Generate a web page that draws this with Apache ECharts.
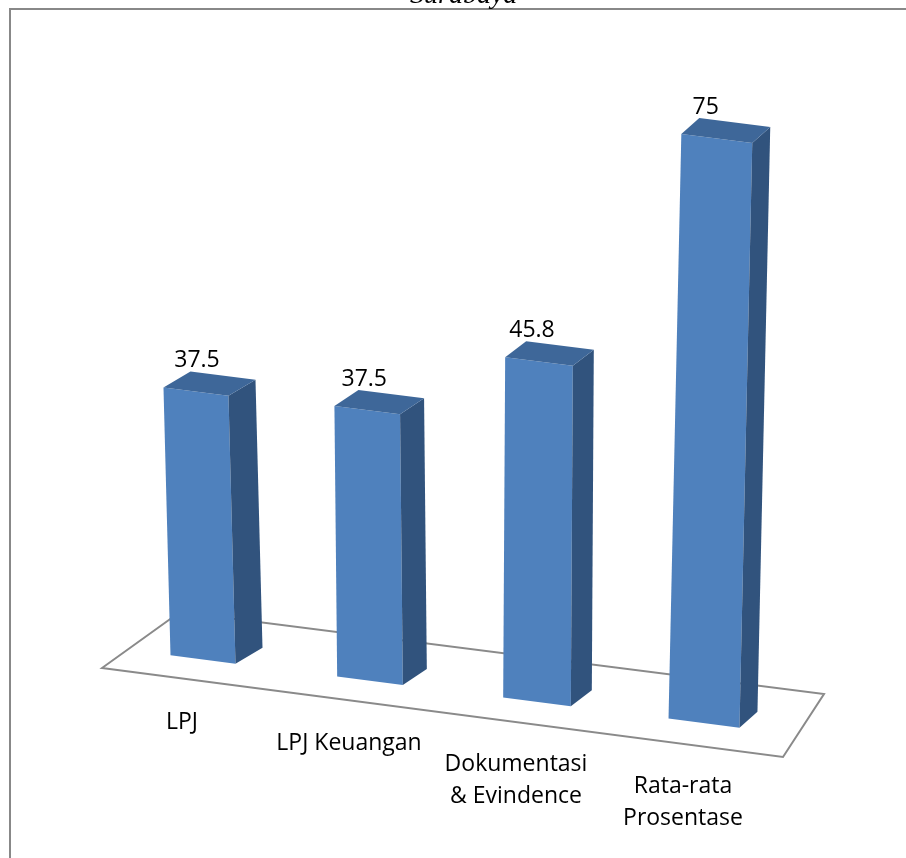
<!DOCTYPE html>
<html><head><meta charset="utf-8">
<script src="https://cdn.jsdelivr.net/npm/echarts@6/dist/echarts.min.js"></script>
<style>html,body{margin:0;padding:0;background:#fff}#c{width:906px;height:858px}</style>
</head><body><div id="c"></div>
<script>
const titleText = 'Surabaya';
const categories = ['LPJ', 'LPJ Keuangan', 'Dokumentasi\n& Evindence', 'Rata-rata\nProsentase'];
const values = [37.5, 37.5, 45.8, 75];
const valueLabels = ['37.5', '37.5', '45.8', '75'];

// styling / perspective constants
const SLOPE = 0.127, K2 = 3.64e-7, M = 9.6e-5, VX = 476, FACE_W = 65, DEPTH_DY = -16;
const COL_FRONT = '#4F81BD', COL_TOP = '#3E6799', COL_SIDE = '#31537D';
const FONT = 'Open Sans';

const chart = echarts.init(document.getElementById('c'), null, {renderer: 'canvas'});

function barItem(params, api) {
  const idx = api.value(0), val = api.value(1);
  const o = api.coord([0, 0]);
  const X0 = o[0], zeroY = o[1];
  const c = api.coord([idx, 0]);
  const t = api.coord([idx, val]);
  const Xc = c[0], dX = Xc - X0;
  const s = 1 + K2 * dX * dX;
  const H = (c[1] - t[1]) * s;
  const w = FACE_W * s;
  const ddx = 27 - 0.018 * dX;
  function P(x, hh, d) {
    const lean = (Xc - VX) * hh * M;
    const baseY = zeroY + SLOPE * (x - X0);
    return [x + lean + d * ddx, baseY - hh + d * DEPTH_DY];
  }
  const xl = Xc - w / 2, xr = Xc + w / 2;
  const FBL = P(xl, 0, 0), FBR = P(xr, 0, 0), FTL = P(xl, H, 0), FTR = P(xr, H, 0);
  const BTL = P(xl, H, 1), BTR = P(xr, H, 1), BBR = P(xr, 0, 1);
  const base = P(Xc, 0, 0);
  return {
    type: 'group',
    children: [
      {type: 'polygon', shape: {points: [FBL, FBR, FTR, FTL]}, style: {fill: COL_FRONT}},
      {type: 'polygon', shape: {points: [FBR, BBR, BTR, FTR]}, style: {fill: COL_SIDE}},
      {type: 'polygon', shape: {points: [FTL, FTR, BTR, BTL]}, style: {fill: COL_TOP}},
      {type: 'text', x: (FTL[0] + FTR[0]) / 2 + 1 - 0.024 * dX, y: (FTL[1] + FTR[1]) / 2 - 31,
        style: {text: valueLabels[idx], fontFamily: FONT, fontSize: 23, fill: '#000', align: 'center', verticalAlign: 'middle'}},
      {type: 'text', x: base[0] - 21, y: base[1] + 47,
        style: {text: categories[idx], fontFamily: FONT, fontSize: 23, lineHeight: 32, fill: '#000', align: 'center', verticalAlign: 'top'}}
    ]
  };
}

function floorItem(params, api) {
  const o = api.coord([0, 0]);
  const n = api.coord([categories.length - 1, 0]);
  const FL = [o[0] - 101, o[1] + 8.5];
  const FR = [n[0] + 79, FL[1] + 0.1307 * (n[0] + 79 - FL[0])];
  const BR = [FR[0] + 41, FR[1] - 63];
  const BL = [FL[0] + 78, FL[1] - 56];
  return {type: 'polygon', shape: {points: [FL, FR, BR, BL]},
    style: {fill: '#fff', stroke: '#8a8a8a', lineWidth: 2}};
}

chart.setOption({
  animation: false,
  backgroundColor: '#fff',
  title: {text: titleText, left: 410, top: -18, padding: 0,
    textStyle: {fontFamily: 'Liberation Serif', fontStyle: 'italic', fontWeight: 'normal', fontSize: 28, color: '#000'}},
  graphic: [{type: 'rect', z: -10, shape: {x: 10, y: 9, width: 1000, height: 1000},
    style: {fill: 'none', stroke: '#888', lineWidth: 2}}],
  grid: {left: 119.5, right: 118.5, top: 88, bottom: 198.5},
  xAxis: {type: 'category', data: categories, show: false},
  yAxis: {type: 'value', min: 0, max: 80, show: false},
  series: [
    {type: 'custom', z: 1, renderItem: floorItem, data: [[0, 0]], silent: true},
    {type: 'custom', z: 2, renderItem: barItem, data: values.map((v, i) => [i, v])}
  ]
});
</script></body></html>
